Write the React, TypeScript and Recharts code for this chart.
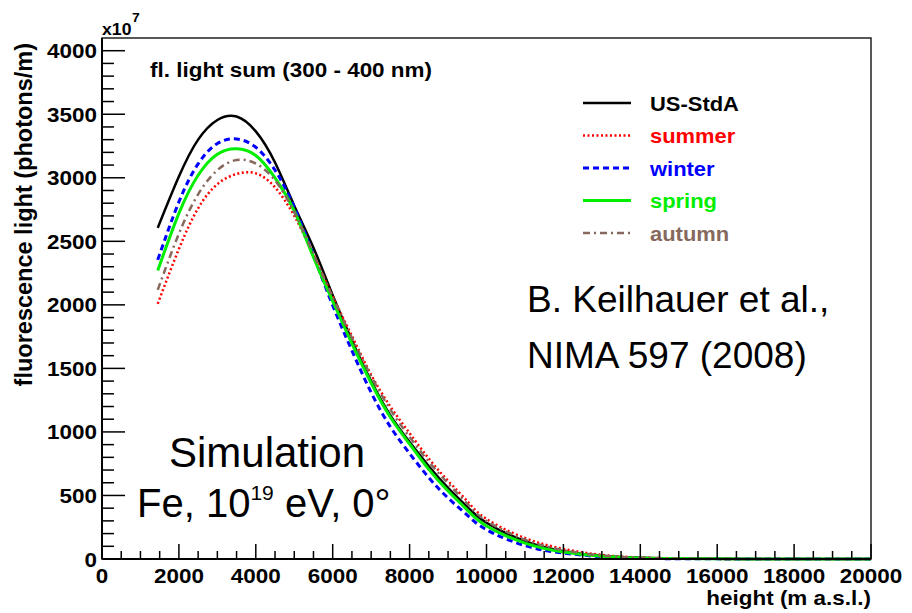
import React from 'react';
import { LineChart, Line, XAxis, YAxis, ReferenceArea } from 'recharts';

const heights = [1450, 2000, 2500, 3000, 3500, 4000, 4500, 5000, 5500, 6000, 6500, 7000, 7500, 8000, 8500, 9000, 9500, 10000, 11000, 12000, 13000, 14000, 15000, 16000, 17000, 18000, 19000, 20000];

// fluorescence light sum, units of 1e7 photons/m
const usStdA = [2606, 3010, 3300, 3455, 3482, 3365, 3120, 2780, 2450, 2075, 1720, 1400, 1130, 920, 730, 560, 410, 285, 140, 62, 25, 9, 3, 1, 0, 0, 0, 0];
const summer = [2008, 2440, 2760, 2950, 3030, 3035, 2925, 2700, 2395, 2065, 1755, 1450, 1200, 990, 790, 615, 455, 315, 165, 80, 32, 12, 4, 1, 0, 0, 0, 0];
const winter = [2354, 2810, 3110, 3270, 3305, 3240, 3060, 2770, 2390, 1995, 1640, 1310, 1040, 830, 640, 480, 345, 230, 105, 47, 18, 6, 2, 1, 0, 0, 0, 0];
const spring = [2270, 2720, 3020, 3185, 3228, 3175, 3000, 2740, 2375, 2030, 1695, 1385, 1115, 905, 705, 535, 385, 260, 125, 55, 22, 8, 3, 1, 0, 0, 0, 0];
const autumn = [2118, 2560, 2870, 3060, 3140, 3112, 2980, 2730, 2400, 2060, 1740, 1440, 1175, 960, 765, 595, 435, 300, 152, 70, 28, 10, 4, 1, 0, 0, 0, 0];

const xLabels = [0, 2000, 4000, 6000, 8000, 10000, 12000, 14000, 16000, 18000, 20000];
const yLabels = [0, 500, 1000, 1500, 2000, 2500, 3000, 3500, 4000];
const xTicks = Array.from({ length: 41 }, (_, i) => i * 500);
const yTicks = Array.from({ length: 41 }, (_, i) => i * 100);

const series = [
  { key: 'usStdA', name: 'US-StdA', values: usStdA, color: '#000000', width: 2.5, dash: undefined },
  { key: 'summer', name: 'summer', values: summer, color: '#ff0000', width: 2.5, dash: '2 2.5' },
  { key: 'winter', name: 'winter', values: winter, color: '#0000ff', width: 3, dash: '6 4' },
  { key: 'spring', name: 'spring', values: spring, color: '#00ee00', width: 3, dash: undefined },
  { key: 'autumn', name: 'autumn', values: autumn, color: '#86695c', width: 2.5, dash: '7 4 2 4' },
];

const data = heights.map((h, i) => {
  const row: Record<string, number> = { h };
  series.forEach((s) => { row[s.key] = s.values[i]; });
  return row;
});

const FONT = "'Liberation Sans', Arial, Helvetica, sans-serif";

// ROOT-style text, slightly wide
const Txt = ({ x, y, anchor = 'start', size = 21, fill = '#000', children }: any) => (
  <text
    transform={`translate(${x},${y}) scale(1.07,1)`}
    textAnchor={anchor}
    fontSize={size}
    fontWeight="bold"
    fontFamily={FONT}
    fill={fill}
  >
    {children}
  </text>
);

const XTick = (props: any) => {
  const { x, y, payload } = props;
  const v = payload.value;
  const major = xLabels.includes(v);
  return (
    <g>
      <line x1={x} x2={x} y1={y} y2={y - (major ? 15 : 8)} stroke="#000" strokeWidth={1.5} />
      {major && <Txt x={x} y={y + 24} anchor="middle">{v}</Txt>}
    </g>
  );
};

const YTick = (props: any) => {
  const { x, y, payload } = props;
  const v = payload.value;
  const major = yLabels.includes(v);
  return (
    <g>
      <line x1={x} x2={x + (major ? 23 : 12)} y1={y} y2={y} stroke="#000" strokeWidth={1.5} />
      {major && <Txt x={x - 5} y={y + 7.5} anchor="end">{v}</Txt>}
    </g>
  );
};

const LegendBox = () => (
  <g>
    {series.map((s, i) => {
      const y = 103 + i * 32.5;
      return (
        <g key={s.key}>
          <line x1={583} x2={631} y1={y} y2={y} stroke={s.color} strokeWidth={s.width} strokeDasharray={s.dash} />
          <Txt x={650} y={y + 7.5} fill={s.color} size={20.5}>{s.name}</Txt>
        </g>
      );
    })}
  </g>
);

const Annotations = () => (
  <g>
    <Txt x={102} y={35} size={16.5}>x10</Txt>
    <Txt x={132} y={22} size={13}>7</Txt>
    <Txt x={150} y={77} size={21}>fl. light sum (300 - 400 nm)</Txt>
    <Txt x={871} y={605} anchor="end" size={21}>height (m a.s.l.)</Txt>
    <text transform="translate(32,43) rotate(-90)" textAnchor="end" fontSize={23.5} fontWeight="bold" fontFamily={FONT}>
      fluorescence light (photons/m)
    </text>
    <text x={267} y={467} textAnchor="middle" fontSize={42} fontFamily={FONT}>Simulation</text>
    <text x={137} y={517} fontSize={40} fontFamily={FONT}>
      Fe, 10<tspan fontSize={21} dy={-17}>19</tspan><tspan dy={17}> eV, 0°</tspan>
    </text>
    <text x={527} y={312} fontSize={37} fontFamily={FONT}>B. Keilhauer et al.,</text>
    <text x={527} y={368} fontSize={37} fontFamily={FONT}>NIMA 597 (2008)</text>
  </g>
);

export default function App() {
  return (
    <div style={{ position: 'absolute', left: 0, top: 0, width: 912, height: 613, background: '#fff' }}>
      <LineChart width={912} height={613} data={data} margin={{ top: 38, right: 41, bottom: 0, left: 0 }}>
        <ReferenceArea x1={0} x2={20000} y1={0} y2={4100} fill="none" stroke="#222" strokeWidth={1.5} />
        <XAxis
          type="number"
          dataKey="h"
          domain={[0, 20000]}
          ticks={xTicks}
          interval={0}
          height={54}
          tickSize={0}
          tickMargin={0}
          tick={XTick}
          axisLine={{ stroke: '#000', strokeWidth: 2 }}
        />
        <YAxis
          type="number"
          domain={[0, 4100]}
          ticks={yTicks}
          interval={0}
          width={102}
          tickSize={0}
          tickMargin={0}
          tick={YTick}
          axisLine={{ stroke: '#000', strokeWidth: 2 }}
        />
        {series.map((s) => (
          <Line
            key={s.key}
            type="natural"
            dataKey={s.key}
            name={s.name}
            stroke={s.color}
            strokeWidth={s.width}
            strokeDasharray={s.dash}
            dot={false}
            isAnimationActive={false}
          />
        ))}
        <LegendBox />
        <Annotations />
      </LineChart>
    </div>
  );
}
